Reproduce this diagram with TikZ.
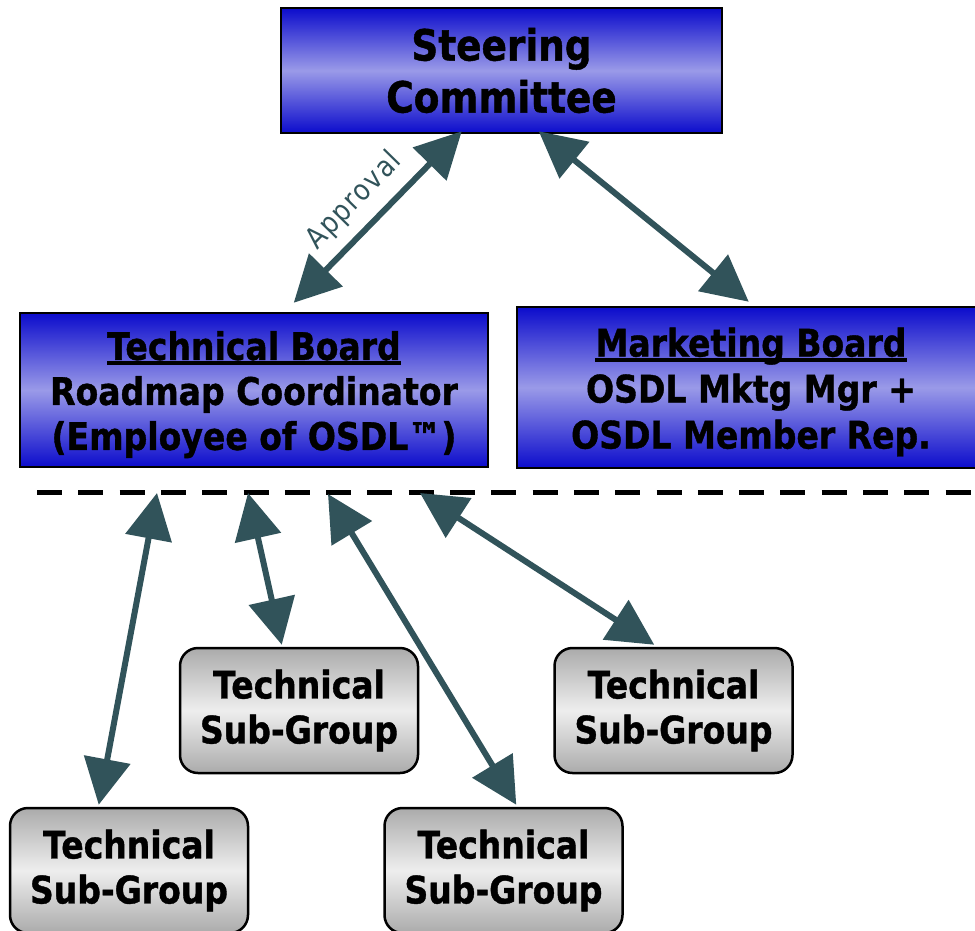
\documentclass[tikz,border=0pt]{standalone}
\usepackage{fontspec}
\setmainfont[FakeStretch=0.87,BoldFeatures={FakeBold=1}]{DejaVu Sans}
\usetikzlibrary{arrows.meta,calc}
\definecolor{boxblue}{HTML}{0C0CCC}
\definecolor{boxlav}{HTML}{9A9AE8}
\definecolor{gdark}{HTML}{ABABAB}
\definecolor{glight}{HTML}{EEEEEE}
\definecolor{arrowc}{HTML}{31535A}
\newcommand\ulbar[1]{\leavevmode\setbox0\hbox{#1}\rlap{\rule[-5.5pt]{\wd0}{4pt}}\box0}
\newcommand\upstrut{\rule{0pt}{38pt}}
\begin{document}
\begin{tikzpicture}[x=1pt,y=-1pt,
  bluebox/.style={draw=black, line width=2.5pt, top color=boxblue, bottom color=boxblue, middle color=boxlav, inner sep=0pt, align=center, font=\bfseries\fontsize{38}{45}\selectfont},
  graybox/.style={draw=black, line width=2.5pt, rounded corners=18pt, top color=gdark, bottom color=gdark, middle color=glight, minimum width=238pt, minimum height=125pt, inner sep=0pt, align=center, font=\bfseries\fontsize{38}{45}\selectfont},
  link/.style={draw=arrowc, line width=6pt, {Triangle[length=46pt,width=46pt]}-{Triangle[length=46pt,width=46pt]}},
  linklabel/.style={sloped, above, font=\fontsize{29}{29}\selectfont\addfontfeature{LetterSpace=5}, text=arrowc, inner sep=11pt},
]
\useasboundingbox (0,0) rectangle (975,930);
\node[bluebox, minimum width=441pt, minimum height=125pt, font=\bfseries\fontsize{43}{52}\selectfont] (sc) at (501.5,70.5) {Steering\\Committee};
\node[bluebox, minimum width=468pt, minimum height=154pt] (tb) at (254,390) {\upstrut\ulbar{Technical Board}\\Roadmap Coordinator\\(Employee of OSDL™)};
\node[bluebox, minimum width=468pt, minimum height=161pt, font=\bfseries\fontsize{38}{46}\selectfont] (mb) at (751,387.5) {\upstrut\ulbar{Marketing Board}\\OSDL Mktg Mgr +\\OSDL Member Rep.};
\node[graybox] (ga) at (129,870.5) {Technical\\Sub-Group};
\node[graybox] (gb) at (299,710.5) {Technical\\Sub-Group};
\node[graybox] (gc) at (503.5,870.5) {Technical\\Sub-Group};
\node[graybox] (gd) at (673.5,710.5) {Technical\\Sub-Group};
\draw[line width=5pt, dash pattern=on 25pt off 16.3pt] (37,492) coordinate (dl) -- (975,492) coordinate (dr);
\coordinate (d1) at (157,493);
\coordinate (d2) at (248,493);
\coordinate (d3) at (328,494);
\coordinate (d4) at (420,493);
\draw[link] ([xshift=275pt,yshift=9pt]tb.north west) -- node[linklabel, pos=0.48]{Approval} ([xshift=182pt,yshift=3pt]sc.south west);
\draw[link] ([xshift=259pt,yshift=3pt]sc.south west) -- ([xshift=233pt,yshift=4pt]mb.north west);
\draw[link] (d1) -- ([xshift=90pt,yshift=2pt]ga.north west);
\draw[link] (d2) -- ([xshift=103pt,yshift=2pt]gb.north west);
\draw[link] (d3) -- ([xshift=133pt,yshift=2pt]gc.north west);
\draw[link] (d4) -- ([xshift=101pt,yshift=2pt]gd.north west);
\end{tikzpicture}
\end{document}
